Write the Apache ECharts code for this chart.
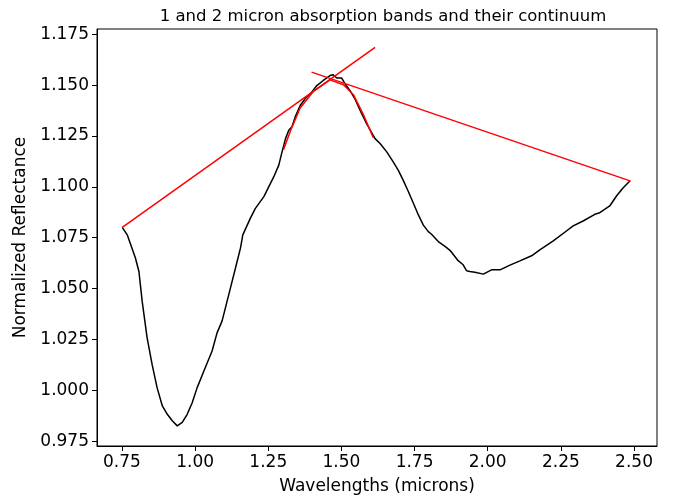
<!DOCTYPE html>
<html>
<head>
<meta charset="utf-8">
<script src="https://cdn.jsdelivr.net/npm/echarts@6/dist/echarts.min.js"></script>
<style>
html, body { margin: 0; padding: 0; background: #fff; }
#chart { width: 673px; height: 500px; }
</style>
</head>
<body>
<div id="chart"></div>
<script>
// spectrum
const wavelengths = [0.751, 0.768, 0.796, 0.808, 0.819, 0.836, 0.853, 0.870, 0.888, 0.905,
    0.922, 0.939, 0.956, 0.973, 0.990, 1.007, 1.030, 1.058, 1.075, 1.092,
    1.115, 1.138, 1.155, 1.163, 1.189, 1.206, 1.235, 1.252, 1.269, 1.286,
    1.297, 1.309, 1.320, 1.331, 1.342, 1.359, 1.376, 1.399, 1.416, 1.438,
    1.461, 1.472, 1.484, 1.501, 1.512, 1.529, 1.546, 1.564, 1.586, 1.615,
    1.632, 1.655, 1.677, 1.694, 1.711, 1.729, 1.746, 1.763, 1.780, 1.797,
    1.808, 1.814, 1.831, 1.837, 1.854, 1.871, 1.897, 1.916, 1.928, 1.939,
    1.956, 1.962, 1.985, 2.013, 2.042, 2.076, 2.110, 2.150, 2.178, 2.224,
    2.269, 2.292, 2.326, 2.366, 2.383, 2.417, 2.440, 2.463, 2.485];
const reflectance = [1.0801, 1.0764, 1.0650, 1.0584, 1.0438, 1.0258, 1.0127, 1.0013, 0.9923, 0.9882,
    0.9850, 0.9825, 0.9842, 0.9882, 0.9939, 1.0013, 1.0095, 1.0193, 1.0282, 1.0340,
    1.0470, 1.0601, 1.0699, 1.0764, 1.0846, 1.0894, 1.0952, 1.1001, 1.1050, 1.1107,
    1.1172, 1.1237, 1.1278, 1.1295, 1.1344, 1.1400, 1.1433, 1.1466, 1.1498, 1.1523,
    1.1547, 1.1551, 1.1535, 1.1535, 1.1507, 1.1474, 1.1433, 1.1376, 1.1311, 1.1237,
    1.1213, 1.1172, 1.1123, 1.1082, 1.1033, 1.0976, 1.0919, 1.0862, 1.0812, 1.0780,
    1.0767, 1.0760, 1.0731, 1.0726, 1.0707, 1.0688, 1.0640, 1.0617, 1.0587, 1.0584,
    1.0580, 1.0576, 1.0571, 1.0592, 1.0592, 1.0615, 1.0636, 1.0661, 1.0690, 1.0734,
    1.0783, 1.0808, 1.0832, 1.0865, 1.0873, 1.0906, 1.0955, 1.0996, 1.1028];

// continuum lines
const cont1X = [0.751, 1.615];
const cont1Y = [1.0801, 1.1686];
const cont2X = [1.398, 2.489];
const cont2Y = [1.1564, 1.1028];

// fit over the 1.5 micron peak
const fitX = [1.302, 1.330, 1.359, 1.404, 1.461, 1.507, 1.541, 1.575, 1.609];
const fitY = [1.1183, 1.1290, 1.1388, 1.1469, 1.1526, 1.1502, 1.1453, 1.1355, 1.1241];

// ticks
const xTicks = [0.75, 1.00, 1.25, 1.50, 1.75, 2.00, 2.25, 2.50];
const yTicks = [0.975, 1.000, 1.025, 1.050, 1.075, 1.100, 1.125, 1.150, 1.175];

function pairs(xs, ys) {
    return xs.map((x, i) => [x, ys[i]]);
}

const font = 'DejaVu Sans';
const fs = 17;

function lineSeries(data, color) {
    return {
        type: 'line',
        data: data,
        showSymbol: false,
        symbol: 'none',
        lineStyle: { color: color, width: 1.5 },
        animation: false
    };
}

const chart = echarts.init(document.getElementById('chart'));
chart.setOption({
    animation: false,
    title: {
        text: '1 and 2 micron absorption bands and their continuum',
        left: 378,
        textAlign: 'center',
        top: 3,
        textStyle: { fontFamily: font, fontSize: 16.5, fontWeight: 'normal', color: '#000' }
    },
    grid: {
        left: 97, right: 16, top: 29, bottom: 52,
        show: true, borderColor: '#000', borderWidth: 1
    },
    xAxis: {
        type: 'value',
        min: 0.6647, max: 2.5785,
        name: 'Wavelengths (microns)',
        nameLocation: 'middle',
        nameGap: 32,
        nameTextStyle: { fontFamily: font, fontSize: fs, color: '#000' },
        axisLine: { show: true, onZero: false, lineStyle: { color: '#000', width: 1 } },
        axisTick: { show: true, customValues: xTicks, length: 5, lineStyle: { color: '#000' } },
        axisLabel: {
            customValues: xTicks, margin: 8,
            fontFamily: font, fontSize: fs, color: '#000',
            formatter: v => v.toFixed(2)
        },
        splitLine: { show: false }
    },
    yAxis: {
        type: 'value',
        min: 0.9726, max: 1.1776,
        name: 'Normalized Reflectance',
        nameLocation: 'middle',
        nameGap: 67,
        nameTextStyle: { fontFamily: font, fontSize: fs, color: '#000' },
        axisLine: { show: true, onZero: false, lineStyle: { color: '#000', width: 1 } },
        axisTick: { show: true, customValues: yTicks, length: 5, lineStyle: { color: '#000' } },
        axisLabel: {
            customValues: yTicks, margin: 8,
            fontFamily: font, fontSize: fs, color: '#000',
            formatter: v => v.toFixed(3)
        },
        splitLine: { show: false }
    },
    series: [
        lineSeries(pairs(wavelengths, reflectance), '#000'),
        lineSeries(pairs(cont1X, cont1Y), '#ff0000'),
        lineSeries(pairs(cont2X, cont2Y), '#ff0000'),
        lineSeries(pairs(fitX, fitY), '#ff0000')
    ]
});
</script>
</body>
</html>
